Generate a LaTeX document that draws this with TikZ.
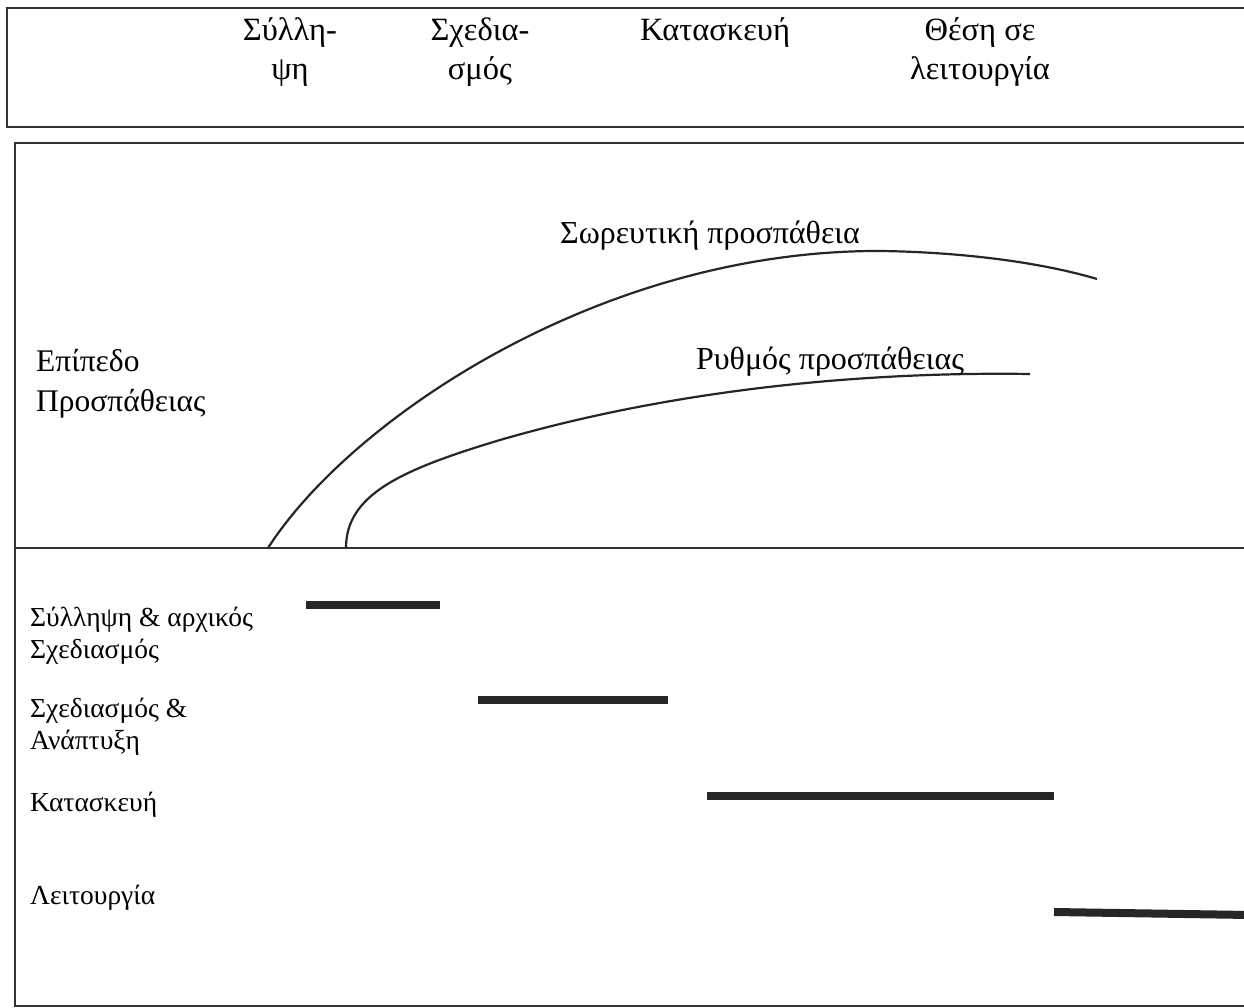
\documentclass[tikz,border=0pt]{standalone}
\usepackage{fontspec}
\setmainfont{Liberation Serif}
\begin{document}
\begin{tikzpicture}[x=1pt,y=-1pt,
  frame/.style={line width=2.2pt, draw=black!80},
  curve/.style={line width=2.2pt, draw=black!85},
  bar/.style={line width=8pt, draw=black!85},
  phase/.style={font=\fontsize{32.5}{39}\selectfont, align=center, inner sep=0pt},
  curvelabel/.style={font=\fontsize{32}{36}\selectfont, inner sep=0pt},
  axislabel/.style={font=\fontsize{31.5}{40}\selectfont, align=left, anchor=west, inner sep=0pt},
  rowlabel/.style={font=\fontsize{27.5}{32}\selectfont, align=left, anchor=west, inner sep=0pt}]
\useasboundingbox (0,0) rectangle (1244,1008);
\fill[white] (0,0) rectangle (1244,1008);
% top box
\draw[frame] (1250,8) -- (7,8) -- (7,127) -- (1250,127);
% lower box
\draw[frame] (1250,143) -- (15,143) -- (15,1006) -- (1250,1006);
\draw[frame] (15,548) coordinate (baseL) -- (1250,548) coordinate (baseR);
% phase headings
\node[phase] (h1) at (290,52) {Σύλλη-\\ψη};
\node[phase] (h2) at (480,52) {Σχεδια-\\σμός};
\node[phase] (h3) at (715,33) {Κατασκευή};
\node[phase] (h4) at (980,52) {Θέση σε\\λειτουργία};
% axis label
\node[axislabel] (ylab) at (36,384) {Επίπεδο\\Προσπάθειας};
% curves
\coordinate (c1s) at (268,548);
\coordinate (c1p) at (880,251);
\coordinate (c1e) at (1097,279);
\coordinate (c2s) at (346,548);
\coordinate (c2m) at (500,440);
\coordinate (c2e) at (1030,374);
\draw[curve] (c1s) .. controls (350,420) and (600,250) .. (c1p)
  .. controls (960,252) and (1040,262) .. (c1e);
\draw[curve] (c2s) .. controls (346,495) and (400,470) .. (c2m)
  .. controls (700,382) and (900,372) .. (c2e);
\node[curvelabel] (lc1) at (710,236) {Σωρευτική προσπάθεια};
\node[curvelabel] (lc2) at (830,362) {Ρυθμός προσπάθειας};
% row labels
\node[rowlabel] (r1) at (30,636) {Σύλληψη \& αρχικός\\Σχεδιασμός};
\node[rowlabel] (r2) at (30,727) {Σχεδιασμός \&\\Ανάπτυξη};
\node[rowlabel] (r3) at (30,805) {Κατασκευή};
\node[rowlabel] (r4) at (30,898) {Λειτουργία};
% bars
\draw[bar] (306,605) -- (440,605);
\draw[bar] (478,700) -- (668,700);
\draw[bar] (707,796) -- (1054,796);
\draw[bar] (1054,912) -- (1250,915);
\end{tikzpicture}
\end{document}
